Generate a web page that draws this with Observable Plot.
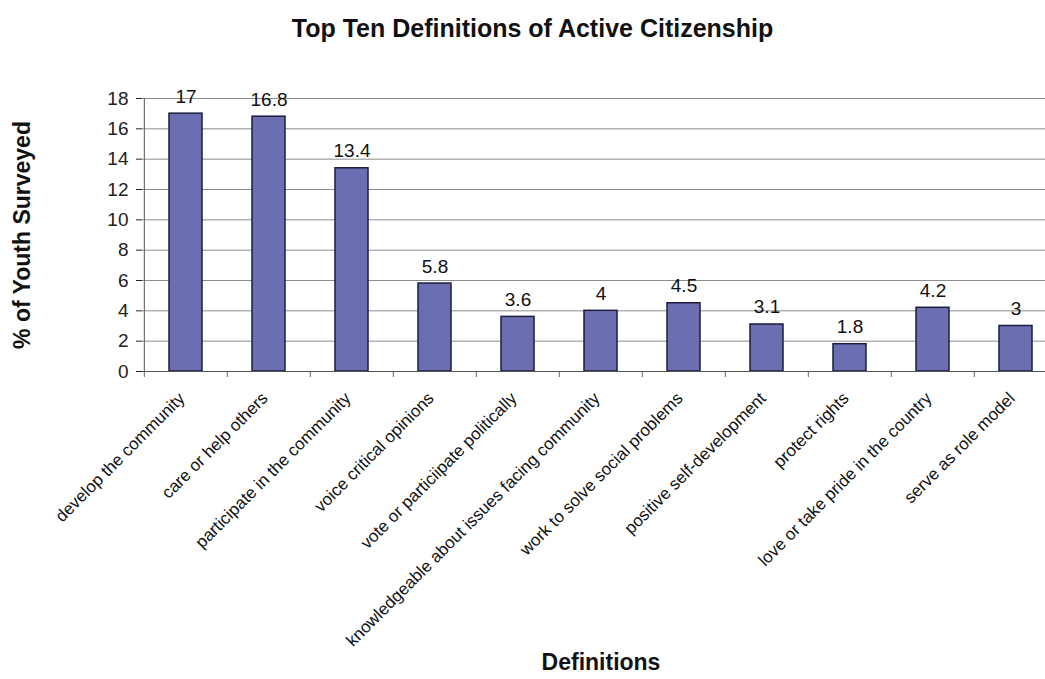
<!DOCTYPE html>
<html><head><meta charset="utf-8">
<script src="https://cdn.jsdelivr.net/npm/d3@7"></script>
<script src="https://cdn.jsdelivr.net/npm/@observablehq/plot@0.6"></script>
<style>
body{margin:0;background:#fff;font-family:"Liberation Sans",Arial,sans-serif;}
#wrap{width:1045px;height:679px;overflow:hidden;position:relative;background:#fff;}
#title{height:60px;width:1045px;box-sizing:border-box;padding-left:20px;padding-top:16px;text-align:center;font-weight:bold;font-size:25px;line-height:25px;color:#111;}
</style></head><body>
<div id="wrap"><div id="title">Top Ten Definitions of Active Citizenship</div><div id="chart"></div></div>
<script>
const categories = [
  "develop the community",
  "care or help others",
  "participate in the community",
  "voice critical opinions",
  "vote or particiipate politically",
  "knowledgeable about issues facing community",
  "work to solve social problems",
  "positive self-development",
  "protect rights",
  "love or take pride in the country",
  "serve as role model"
];
const values = [17, 16.8, 13.4, 5.8, 3.6, 4, 4.5, 3.1, 1.8, 4.2, 3];
const yTicks = [0, 2, 4, 6, 8, 10, 12, 14, 16, 18];
const yTitle = "% of Youth Surveyed";
const xTitle = "Definitions";

const data = categories.map((c, i) => ({category: c, value: values[i]}));

const W = 1059, H = 619, mL = 142, mR = 0, mT = 38, mB = 308;
const step = (W - mL - mR) / categories.length;
const font = "Liberation Sans, Arial, sans-serif";

const plot = Plot.plot({
  width: W, height: H,
  marginLeft: mL, marginRight: mR, marginTop: mT, marginBottom: mB,
  style: {fontFamily: font, background: "#fff", maxWidth: "none", overflow: "visible"},
  x: {domain: categories, paddingInner: 0.6, paddingOuter: 0.3, label: null},
  y: {domain: [0, 18], label: null},
  marks: [
    Plot.gridY(yTicks, {stroke: "#8c8c8c", strokeOpacity: 1, strokeWidth: 1}),
    Plot.barY(data, {x: "category", y: "value", fill: "#6b6fb2", stroke: "#1c1c3c", strokeWidth: 1.5}),
    Plot.text(data, {x: "category", y: "value", text: d => String(d.value), lineAnchor: "bottom", dy: -11, fontSize: 19, fill: "#111"}),
    Plot.ruleY([0], {stroke: "#555"}),
    Plot.ruleX([categories[0]], {dx: -step / 2, stroke: "#555"}),
    Plot.axisY(yTicks, {tickSize: 6, tickPadding: 8, fontSize: 19, color: "#222", label: null}),
    Plot.axisX({tickSize: 6, tickFormat: () => "", dx: -step / 2, color: "#666", label: null}),
    Plot.axisX({tickRotate: -45, tickSize: 0, tickPadding: 24, dx: -4, fontSize: 17, color: "#111", label: null}),
    Plot.text([yTitle], {frameAnchor: "left", textAnchor: "middle", rotate: -90, dx: -120, fontSize: 23, fontWeight: "bold", fill: "#111"}),
    Plot.text([xTitle], {frameAnchor: "bottom", textAnchor: "middle", dy: 298, fontSize: 23, fontWeight: "bold", fill: "#111"})
  ]
});
document.getElementById("chart").appendChild(plot);
</script>
</body></html>
